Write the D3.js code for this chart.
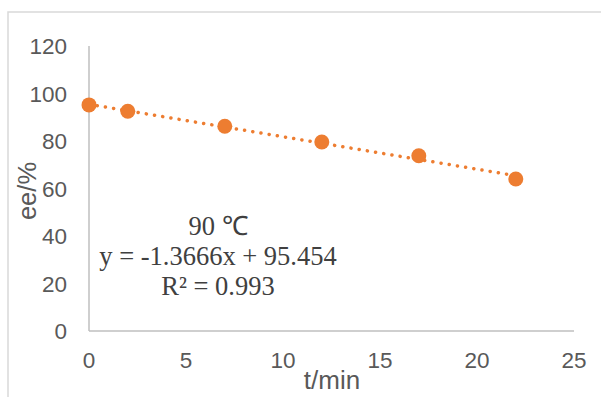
<!DOCTYPE html>
<html>
<head>
    <meta charset="utf-8">
    <title>ee vs t</title>
    <script src="https://cdn.jsdelivr.net/npm/d3@7"></script>
    <style>
        body { margin: 0; background: #fff; }
    </style>
</head>
<body>
    <div id="chart"></div>
    <script>
        // data
        var times = [0, 2, 7, 12, 17, 22];
        var eeValues = [95.2, 92.5, 86.2, 79.6, 73.8, 64.0];
        var xTicks = [0, 5, 10, 15, 20, 25];
        var yTicks = [0, 20, 40, 60, 80, 100, 120];
        var slope = -1.3666, intercept = 95.454;
        var labelLines = ["90 \u2103", "y = -1.3666x + 95.454", "R\u00b2 = 0.993"];

        var width = 601,
            height = 397;

        var svg = d3.select("#chart").append("svg")
            .attr("width", width)
            .attr("height", height);

        // chart frame (runs off the right and bottom edges)
        svg.append("rect")
            .attr("x", 8).attr("y", 12)
            .attr("width", 620).attr("height", 420)
            .attr("fill", "none")
            .attr("stroke", "#d9d9d9")
            .attr("stroke-width", 1.5);

        var x = d3.scaleLinear().domain([0, 25]).range([89, 574]);
        var y = d3.scaleLinear().domain([0, 120]).range([331, 46]);

        // axis lines
        svg.append("line")
            .attr("x1", x(0)).attr("x2", x(0))
            .attr("y1", y(120)).attr("y2", y(0))
            .attr("stroke", "#bfbfbf").attr("stroke-width", 1.5);
        svg.append("line")
            .attr("x1", x(0)).attr("x2", x(25))
            .attr("y1", y(0)).attr("y2", y(0))
            .attr("stroke", "#bfbfbf").attr("stroke-width", 1.5);

        // tick labels
        svg.selectAll("text.ytick").data(yTicks).enter()
            .append("text")
            .attr("class", "ytick")
            .attr("x", 67)
            .attr("y", function(d){ return y(d); })
            .attr("dy", "0.36em")
            .attr("text-anchor", "end")
            .attr("font-family", "Liberation Sans, Arial, sans-serif")
            .attr("font-size", 22.5)
            .attr("fill", "#595959")
            .text(function(d){ return d; });

        svg.selectAll("text.xtick").data(xTicks).enter()
            .append("text")
            .attr("class", "xtick")
            .attr("x", function(d){ return x(d); })
            .attr("y", 368)
            .attr("text-anchor", "middle")
            .attr("font-family", "Liberation Sans, Arial, sans-serif")
            .attr("font-size", 22.5)
            .attr("fill", "#595959")
            .text(function(d){ return d; });

        // axis titles
        svg.append("text")
            .attr("transform", "translate(36,191) rotate(-90)")
            .attr("text-anchor", "middle")
            .attr("font-family", "Liberation Sans, Arial, sans-serif")
            .attr("font-size", 25.5)
            .attr("fill", "#595959")
            .text("ee/%");
        svg.append("text")
            .attr("x", 332).attr("y", 389)
            .attr("text-anchor", "middle")
            .attr("font-family", "Liberation Sans, Arial, sans-serif")
            .attr("font-size", 26)
            .attr("fill", "#595959")
            .text("t/min");

        // trendline (dotted)
        var trend = [times[0], times[times.length - 1]].map(function(t){ return [t, slope * t + intercept]; });
        svg.append("path")
            .datum(trend)
            .attr("d", d3.line().x(function(d){ return x(d[0]); }).y(function(d){ return y(d[1]); }))
            .attr("fill", "none")
            .attr("stroke", "#ed7d31")
            .attr("stroke-width", 3.5)
            .attr("stroke-linecap", "round")
            .attr("stroke-dasharray", "0.1 8.2");

        // markers
        svg.selectAll("circle").data(times).enter()
            .append("circle")
            .attr("cx", function(d){ return x(d); })
            .attr("cy", function(d, i){ return y(eeValues[i]); })
            .attr("r", 7.5)
            .attr("fill", "#ed7d31");

        // equation label
        svg.selectAll("text.eq").data(labelLines).enter()
            .append("text")
            .attr("class", "eq")
            .attr("x", 218)
            .attr("y", function(d, i){ return 235 + i * 30; })
            .attr("text-anchor", "middle")
            .attr("font-family", "Liberation Serif, Times New Roman, serif")
            .attr("font-size", 26.5)
            .attr("fill", "#404040")
            .text(function(d){ return d; });
    </script>
</body>
</html>
